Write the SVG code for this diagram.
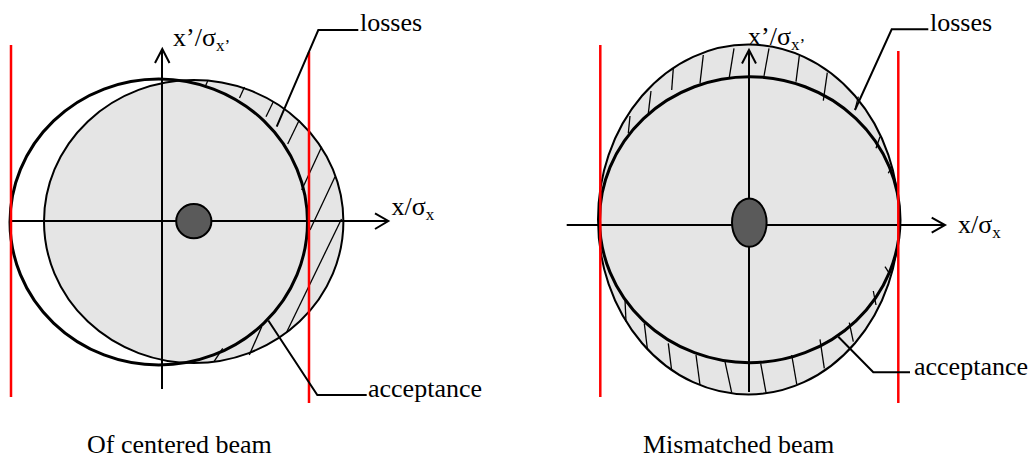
<svg xmlns="http://www.w3.org/2000/svg" width="1031" height="457" viewBox="0 0 1031 457">
<style>
.beam{fill:#e5e5e5;stroke:#000;stroke-width:2}
.acc{fill:none;stroke:#000;stroke-width:3}
.accf{fill:#e5e5e5;stroke:#000;stroke-width:3}
.hatch{stroke:#000;stroke-width:1.3;fill:none}
.axis{stroke:#000;stroke-width:2;fill:none}
.dot{fill:#5a5a5a;stroke:#000;stroke-width:2}
.red{stroke:#ff0000;stroke-width:2.5}
.lead{stroke:#000;stroke-width:2;fill:none}
text{font-family:"Liberation Serif","Times New Roman",serif;font-size:26px;fill:#000}
.sub{font-size:17px}
</style>
<g id="left-diagram">
  <g id="left-beam">
    <ellipse class="beam" cx="193.7" cy="221.5" rx="149.7" ry="141.5"/>
  </g>
  <g id="left-hatch">
    <line class="hatch" x1="207.7" y1="81" x2="205" y2="87"/>
    <line class="hatch" x1="244.5" y1="87" x2="239.5" y2="98"/>
    <line class="hatch" x1="273.3" y1="101.7" x2="266" y2="116.7"/>
    <line class="hatch" x1="299.3" y1="120" x2="287.7" y2="144"/>
    <line class="hatch" x1="321.7" y1="146.7" x2="301.7" y2="190"/>
    <line class="hatch" x1="335" y1="176.7" x2="310" y2="230"/>
    <line class="hatch" x1="341.5" y1="219" x2="286.7" y2="332"/>
    <line class="hatch" x1="261.7" y1="326.7" x2="249.3" y2="355"/>
    <line class="hatch" x1="222.7" y1="348.3" x2="214" y2="361.7"/>
  </g>
  <g id="left-acceptance">
    <ellipse class="acc" cx="158.75" cy="222" rx="148.75" ry="143"/>
  </g>
  <g id="left-axes">
    <line class="axis" x1="10" y1="221" x2="388" y2="221"/>
    <polyline class="axis" points="375,213.3 388.3,221 375,229"/>
    <line class="axis" x1="162" y1="389" x2="162" y2="49"/>
    <polyline class="axis" points="155,63 162.3,49 169.5,63"/>
  </g>
  <g id="left-dot">
    <ellipse class="dot" cx="193.8" cy="221.2" rx="17.6" ry="17.1"/>
  </g>
  <g id="left-limits">
    <line class="red" x1="11" y1="45" x2="11" y2="397"/>
    <line class="red" x1="309" y1="52" x2="309" y2="403"/>
  </g>
  <g id="left-labels">
    <text x="173" y="46">x’/σ<tspan class="sub" dy="5">x’</tspan></text>
    <text x="391.5" y="215">x/σ<tspan class="sub" dy="5">x</tspan></text>
    <text x="360" y="31">losses</text>
    <text x="368" y="397">acceptance</text>
    <text x="87" y="453">Of centered beam</text>
  </g>
</g>
<g id="right-diagram">
  <g id="right-beam">
    <ellipse class="beam" cx="748.5" cy="219.5" rx="150.5" ry="175"/>
  </g>
  <g id="right-acceptance">
    <ellipse class="accf" cx="749.75" cy="219.7" rx="150.25" ry="143"/>
  </g>
  <g id="right-hatch">
    <line class="hatch" x1="630" y1="116" x2="628.3" y2="133.3"/>
    <line class="hatch" x1="651" y1="91" x2="648.3" y2="113.3"/>
    <line class="hatch" x1="673.3" y1="68.3" x2="671.7" y2="90"/>
    <line class="hatch" x1="703.3" y1="55" x2="700" y2="83.3"/>
    <line class="hatch" x1="734" y1="48.3" x2="729.3" y2="77.3"/>
    <line class="hatch" x1="769" y1="48.3" x2="764" y2="76"/>
    <line class="hatch" x1="799.3" y1="56" x2="796" y2="81.7"/>
    <line class="hatch" x1="827.3" y1="72.7" x2="823.3" y2="100.7"/>
    <line class="hatch" x1="858.3" y1="96.7" x2="855" y2="110"/>
    <line class="hatch" x1="880" y1="136.7" x2="876" y2="148.3"/>
    <line class="hatch" x1="891.7" y1="166.7" x2="888.3" y2="173.3"/>
    <line class="hatch" x1="625" y1="300" x2="626" y2="321.7"/>
    <line class="hatch" x1="644.3" y1="323.3" x2="647.3" y2="348.3"/>
    <line class="hatch" x1="668.3" y1="343.3" x2="671.7" y2="370.7"/>
    <line class="hatch" x1="696" y1="355" x2="700" y2="385"/>
    <line class="hatch" x1="725" y1="361.7" x2="731.7" y2="392.7"/>
    <line class="hatch" x1="760.7" y1="363.3" x2="766" y2="392.7"/>
    <line class="hatch" x1="791.7" y1="355" x2="796.7" y2="384"/>
    <line class="hatch" x1="820" y1="339.3" x2="824.3" y2="368.3"/>
    <line class="hatch" x1="849.3" y1="322.7" x2="853.3" y2="341.7"/>
    <line class="hatch" x1="873.3" y1="291" x2="876" y2="305"/>
    <line class="hatch" x1="885" y1="266.7" x2="889.3" y2="273.3"/>
  </g>
  <g id="right-axes">
    <line class="axis" x1="566.7" y1="225" x2="945" y2="225"/>
    <polyline class="axis" points="931.7,217.7 945,225 931.7,232.7"/>
    <line class="axis" x1="749" y1="392" x2="749" y2="50"/>
    <polyline class="axis" points="742,63.5 749,50 756,63.5"/>
  </g>
  <g id="right-dot">
    <ellipse class="dot" cx="749.3" cy="222.6" rx="17.3" ry="24.2"/>
  </g>
  <g id="right-limits">
    <line class="red" x1="600.3" y1="45" x2="600.3" y2="397"/>
    <line class="red" x1="898.3" y1="51" x2="898.3" y2="403"/>
  </g>
  <g id="right-labels">
    <text x="748" y="45">x’/σ<tspan class="sub" dy="5">x’</tspan></text>
    <text x="958" y="233">x/σ<tspan class="sub" dy="5">x</tspan></text>
    <text x="930" y="30.5">losses</text>
    <text x="914" y="375">acceptance</text>
    <text x="643" y="453">Mismatched beam</text>
  </g>
</g>
<g id="connectors">
  <polyline class="lead" points="358.3,30 318.3,30 276.7,126.7"/>
  <polyline class="lead" points="366.7,395 317.3,395 268.3,320.5"/>
  <polyline class="lead" points="928.3,29.3 891.7,29.3 855,110"/>
  <polyline class="lead" points="910,372.3 873.3,372.3 838.3,336.7"/>
</g>
</svg>
